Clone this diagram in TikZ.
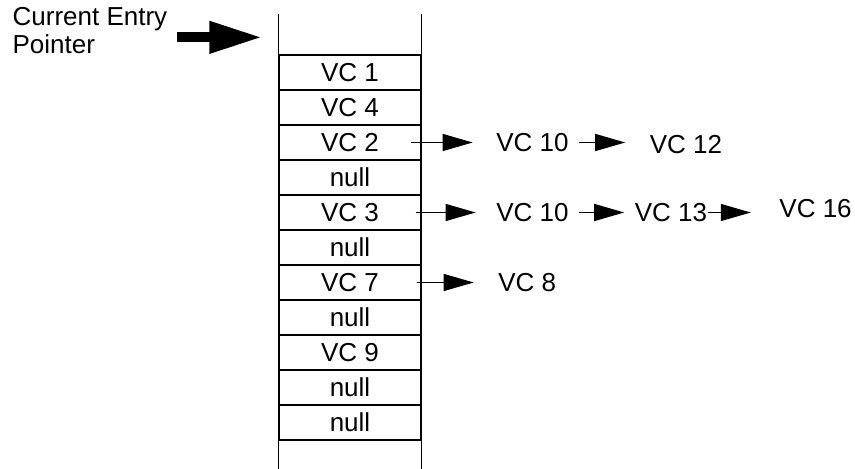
\documentclass[tikz,border=0pt]{standalone}
\usepackage{fontspec}
\setmainfont{Liberation Sans}
\usepackage{tikz}
\usetikzlibrary{arrows.meta,positioning}

\begin{document}
\begin{tikzpicture}[node distance=17.5pt, inner sep=0pt, line width=0.65pt,
    font=\fontsize{13}{14}\selectfont]
    \tikzstyle{cell}=[rectangle, draw=black, minimum width=71pt, minimum height=17.5pt]
    \tikzstyle{nxt}=[-{Triangle[length=15pt,width=8.5pt]}, draw=black]
    \tikzstyle{big}=[-{Triangle[length=26.5pt,width=15pt]}, draw=black, line width=5pt]

    \useasboundingbox (0,0) rectangle (427.5pt,-234.5pt);

    \node[cell] (C1) at (175pt,-36.25pt) {VC 1};
    \node[cell] (C4) [below of=C1] {VC 4};
    \node[cell] (C2) [below of=C4] {VC 2};
    \node[cell] (N1) [below of=C2] {null};
    \node[cell] (C3) [below of=N1] {VC 3};
    \node[cell] (N2) [below of=C3] {null};
    \node[cell] (C7) [below of=N2] {VC 7};
    \node[cell] (N3) [below of=C7] {null};
    \node[cell] (C9) [below of=N3] {VC 9};
    \node[cell] (N4) [below of=C9] {null};
    \node[cell] (N5) [below of=N4] {null};

    \draw (C1.north west) -- ++(0,20pt);
    \draw (C1.north east) -- ++(0,20pt);
    \draw (N5.south west) -- ++(0,-14pt);
    \draw (N5.south east) -- ++(0,-14pt);

    \node[align=left, anchor=north west] (ptr) at (6pt,-3.5pt) {Current Entry\\Pointer};
    \coordinate (entry) at ([xshift=-8pt,yshift=8.5pt] C1.north west);
    \draw[big] ([xshift=4.5pt] ptr.east |- entry) to (entry);

    \node (C2a) [right=37pt of C2] {VC 10};
    \node (C2b) [right=40pt of C2a, yshift=-1.25pt] {VC 12};
    \draw[nxt] ([xshift=-5.5pt] C2.east) to ([xshift=-11.5pt] C2a.west);
    \draw[nxt] ([xshift=5pt] C2a.east) to ([xshift=-12pt] C2b.west |- C2a.east);

    \node (C3a) [right=37pt of C3] {VC 10};
    \node (C3b) [right=32.5pt of C3a] {VC 13};
    \node (C3c) [right=35.5pt of C3b, yshift=2pt] {VC 16};
    \draw[nxt] ([xshift=-3pt] C3.east) to ([xshift=-10pt] C3a.west);
    \draw[nxt] ([xshift=5pt] C3a.east) to ([xshift=-5pt] C3b.west);
    \draw[nxt] (C3b.east) to ([xshift=-14pt] C3c.west |- C3b.east);

    \node (C7a) [right=38pt of C7] {VC 8};
    \draw[nxt] ([xshift=-2.5pt] C7.east) to ([xshift=-12pt] C7a.west);
\end{tikzpicture}
\end{document}
